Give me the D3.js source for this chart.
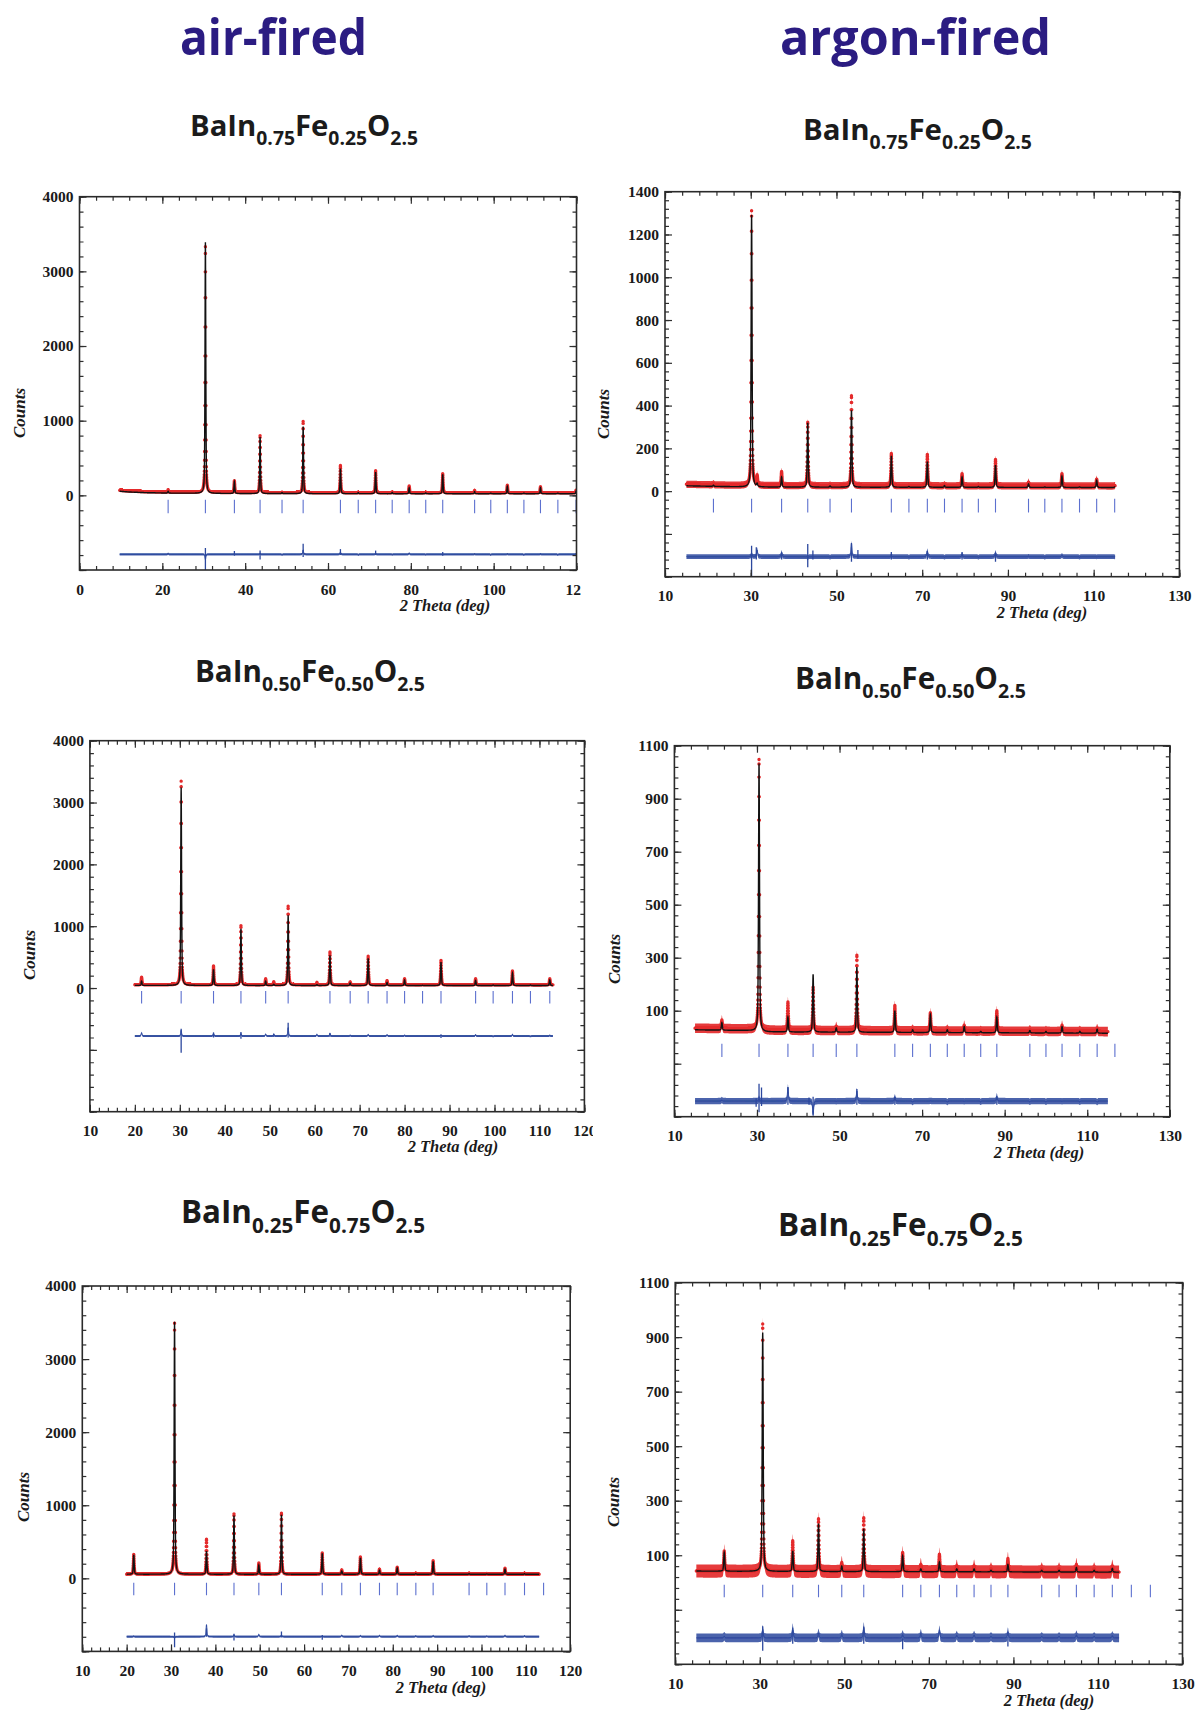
<!DOCTYPE html>
<html>
<head>
<meta charset="utf-8">
<script src="https://cdn.jsdelivr.net/npm/d3@7"></script>
<style>
  html, body { margin: 0; padding: 0; background: #ffffff; }
  svg { display: block; }
</style>
</head>
<body>
<svg id="fig" width="1195" height="1711"></svg>
<script>
// Rietveld fits of BaIn(1-x)Fe(x)O2.5 powder patterns: air-fired (left) vs argon-fired (right).

// ---- headings and compositions ----
const columnHeadings = ["air-fired", "argon-fired"];
const compositions = [["0.75", "0.25"], ["0.50", "0.50"], ["0.25", "0.75"]];

// ---- tick labels ----
const xTicksAirTop = [0, 20, 40, 60, 80, 100, 120];
const xTicksAir = [10, 20, 30, 40, 50, 60, 70, 80, 90, 100, 110, 120];
const xTicksArgon = [10, 30, 50, 70, 90, 110, 130];
const yTicksAir = [0, 1000, 2000, 3000, 4000];
const yTicksArgonTop = [0, 200, 400, 600, 800, 1000, 1200, 1400];
const yTicksArgon = [100, 300, 500, 700, 900, 1100];

// ---- BaIn0.75Fe0.25O2.5, air-fired ----
const air75Reflections = [21.4, 30.4, 37.4, 43.6, 48.9, 54.0, 63.0, 67.3, 71.5, 75.5, 79.6, 83.6, 87.7, 95.4, 99.3, 103.3, 107.3, 111.3, 115.5, 119.9];
// [2-theta, observed peak top, calculated peak top]
const air75Peaks = [[21.4, 75, 55], [30.4, 3330, 3390], [37.4, 195, 180], [43.6, 800, 780], [48.9, 40, 35], [54.0, 990, 920], [63.0, 400, 360], [67.3, 40, 35], [71.5, 330, 310], [75.5, 45, 38], [79.6, 125, 100], [83.6, 40, 32], [87.7, 290, 280], [95.4, 65, 50], [99.3, 35, 30], [103.3, 135, 120], [107.3, 35, 30], [111.3, 115, 100], [115.5, 35, 30], [119.9, 70, 55]];
const air75Background = [[9.7, 55], [12, 45], [16, 36], [22, 30], [30, 26], [60, 22], [120, 22]];
// [2-theta, lowest, highest] excursions of the difference curve
const air75Diff = [[30.4, -1000, -705], [37.4, -810, -745], [43.6, -860, -740], [54.0, -825, -650], [63.0, -800, -720], [71.5, -800, -740], [87.7, -810, -760]];

// ---- BaIn0.75Fe0.25O2.5, argon-fired ----
const arg75Reflections = [21.3, 30.2, 37.2, 43.3, 48.5, 53.5, 62.8, 66.9, 71.2, 75.2, 79.3, 83.1, 87.1, 94.8, 98.6, 102.6, 106.7, 110.7, 114.9];
const arg75Peaks = [[21.3, 35, 28], [30.2, 1311, 1291], [31.5, 70, 32], [37.2, 92, 66], [43.3, 322, 320], [48.5, 28, 24], [53.5, 446, 378], [62.8, 176, 165], [66.9, 26, 22], [71.2, 172, 138], [75.2, 30, 26], [79.3, 82, 66], [83.1, 26, 22], [87.1, 148, 122], [94.8, 42, 34], [98.6, 24, 20], [102.6, 82, 70], [106.7, 24, 20], [110.7, 56, 50], [114.9, 26, 20]];
const arg75Background = [[15, 25], [30, 19], [115, 17]];
const arg75Diff = [[30.2, -400, -255], [31.3, -320, -262], [37.2, -320, -285], [43.3, -356, -247], [44.5, -320, -278], [53.5, -330, -243], [55.0, -315, -275], [62.8, -320, -285], [71.2, -320, -280], [79.3, -320, -285], [87.1, -330, -288]];

// ---- BaIn0.50Fe0.50O2.5, air-fired ----
const air50Reflections = [21.5, 30.3, 37.5, 43.6, 49.1, 54.1, 63.4, 67.9, 71.9, 76.1, 80.0, 84.0, 88.1, 95.8, 99.7, 104.0, 108.0, 112.3];
const air50Peaks = [[21.5, 175, 110], [30.3, 3346, 3243], [37.5, 356, 300], [43.6, 1010, 960], [49.1, 150, 110], [50.9, 100, 60], [54.1, 1322, 1176], [60.5, 90, 55], [63.4, 583, 530], [67.9, 100, 80], [71.9, 513, 480], [76.1, 120, 90], [80.0, 150, 130], [84.0, 55, 45], [88.1, 448, 420], [95.8, 150, 120], [99.7, 55, 50], [104.0, 275, 240], [108.0, 55, 50], [112.3, 150, 130]];
const air50Background = [[20, 42], [113, 40]];
const air50Diff = [[30.3, -1047, -658], [37.5, -800, -720], [43.6, -820, -710], [50.9, -790, -740], [54.1, -800, -561], [63.4, -790, -730], [88.1, -810, -760]];

// ---- BaIn0.50Fe0.50O2.5, argon-fired ----
const arg50Reflections = [21.5, 30.5, 37.5, 43.6, 49.2, 54.2, 63.4, 67.7, 72.0, 76.1, 80.2, 84.2, 88.1, 96.1, 100.0, 103.9, 108.2, 112.4, 116.7];
const arg50Peaks = [[21.5, 65, 55], [30.5, 1048, 1033], [37.5, 133, 76], [43.6, 189, 237], [49.2, 40, 35], [54.2, 309, 265], [63.4, 120, 100], [67.7, 30, 28], [72.0, 92, 85], [76.1, 30, 28], [80.2, 45, 40], [84.2, 25, 22], [88.1, 100, 76], [96.1, 28, 25], [100.0, 25, 22], [103.9, 45, 40], [108.2, 25, 22], [112.4, 32, 30]];
const arg50Background = [[15, 28], [28, 25], [32, 20], [115, 15]];
const arg50Diff = [[29.8, -262, -230], [30.5, -283, -176], [31.1, -260, -190], [37.5, -255, -188], [42.6, -255, -228], [43.6, -289, -225], [54.2, -255, -195], [63.4, -255, -225], [88.1, -255, -230]];

// ---- BaIn0.25Fe0.75O2.5, air-fired ----
const air25Reflections = [21.6, 30.8, 38.0, 44.2, 49.8, 54.9, 64.1, 68.5, 72.7, 77.0, 81.0, 85.2, 89.1, 97.2, 101.2, 105.3, 109.7, 114.0];
const air25Peaks = [[21.6, 325, 320], [30.8, 3490, 3510], [38.0, 534, 371], [44.2, 882, 860], [49.8, 209, 180], [54.9, 891, 870], [64.1, 348, 340], [68.5, 116, 100], [72.7, 292, 280], [77.0, 125, 110], [81.0, 153, 140], [85.2, 70, 62], [89.1, 241, 230], [97.2, 70, 62], [101.2, 65, 60], [105.3, 139, 125], [109.7, 70, 62]];
const air25Background = [[20, 56], [113, 55]];
const air25Diff = [[30.8, -942, -740], [38.0, -800, -682], [44.2, -850, -760], [54.9, -810, -728], [64.1, -840, -780]];

// ---- BaIn0.25Fe0.75O2.5, argon-fired ----
const arg25Reflections = [21.6, 30.7, 37.8, 43.9, 49.4, 54.6, 63.8, 68.1, 72.5, 76.6, 80.7, 84.7, 88.7, 96.7, 100.8, 104.9, 109.1, 113.4, 117.9, 122.4];
const arg25Peaks = [[21.6, 116, 110], [30.7, 948, 917], [37.8, 153, 116], [43.9, 234, 216], [49.4, 73, 60], [54.6, 238, 197], [63.8, 110, 98], [68.1, 66, 50], [72.5, 104, 75], [76.6, 60, 50], [80.7, 60, 50], [84.7, 50, 45], [88.7, 88, 66], [96.7, 50, 45], [100.8, 50, 45], [104.9, 66, 55], [109.1, 50, 45], [113.4, 60, 52]];
const arg25Background = [[15, 42], [28, 41], [115, 38]];
const arg25Diff = [[30.7, -250, -160], [37.8, -225, -175], [54.6, -225, -165], [63.8, -245, -205], [88.7, -235, -200]];

// ---- per-panel levels (counts), order: air75, arg75, air50, arg50, air25, arg25 ----
const scanRanges = [[9.7, 120], [15, 115], [20, 113], [15, 115], [20, 113], [15, 115]];
const obsLift = [12, 7, 10, 6, 0, 0];
const obsScatter = [14, 17, 20, 18, 18, 24];
const diffZero = [-790, -306, -777, -241, -798, -203];
const diffScatter = [15, 11, 16, 12, 14, 16];
const braggSpan = [[-240, -60], [-100, -35], [-252, -49], [-75, -25], [-232, -60], [-54, -8]];

const STEP = 0.02;

// ---- layout of the six panels ----
const panels = [
  { row: 0, col: 0, refl: air75Reflections, peaks: air75Peaks, bg: air75Background, diff: air75Diff, fwhm: 0.22,
    frame: [79.5, 196.7, 576.5, 570], clipRight: 581,
    xDom: [0, 120], yDom: [-1000, 4000], xLabels: xTicksAirTop, xMinor: 4, yLabels: yTicksAir, yMajorExtra: [-1000], yMinor: 200,
    title: { x0: 190, x1: 418, base: 136 }, counts: [19, 413], theta: [445, 611] },
  { row: 0, col: 1, refl: arg75Reflections, peaks: arg75Peaks, bg: arg75Background, diff: arg75Diff, fwhm: 0.26,
    frame: [665, 191.7, 1179.4, 576.7], clipRight: null,
    xDom: [10, 130], yDom: [-400, 1400], xLabels: xTicksArgon, xMinor: 4, yLabels: yTicksArgonTop, yMajorExtra: [-200, -400], yMinor: 40,
    title: { x0: 803, x1: 1032, base: 140 }, counts: [603, 414], theta: [1042, 618] },
  { row: 1, col: 0, refl: air50Reflections, peaks: air50Peaks, bg: air50Background, diff: air50Diff, fwhm: 0.22,
    frame: [89.9, 740.7, 584.4, 1111.7], clipRight: 593,
    xDom: [10, 120], yDom: [-2000, 4000], xLabels: xTicksAir, xMinor: 2, yLabels: yTicksAir, yMajorExtra: [-1000, -2000], yMinor: 200,
    title: { x0: 195, x1: 425, base: 682 }, counts: [29.5, 955], theta: [453, 1152] },
  { row: 1, col: 1, refl: arg50Reflections, peaks: arg50Peaks, bg: arg50Background, diff: arg50Diff, fwhm: 0.28,
    frame: [674.4, 745.7, 1169.8, 1116.7], clipRight: null,
    xDom: [10, 130], yDom: [-300, 1100], xLabels: xTicksArgon, xMinor: 4, yLabels: yTicksArgon, yMajorExtra: [-100, -300], yMinor: 40,
    title: { x0: 795, x1: 1026, base: 689 }, counts: [614, 959], theta: [1039, 1158] },
  { row: 2, col: 0, refl: air25Reflections, peaks: air25Peaks, bg: air25Background, diff: air25Diff, fwhm: 0.22,
    frame: [82.3, 1286, 570.2, 1651.4], clipRight: null,
    xDom: [10, 120], yDom: [-1000, 4000], xLabels: xTicksAir, xMinor: 2, yLabels: yTicksAir, yMajorExtra: [-1000], yMinor: 200,
    title: { x0: 181, x1: 425, base: 1223 }, counts: [23, 1497], theta: [441, 1693] },
  { row: 2, col: 1, refl: arg25Reflections, peaks: arg25Peaks, bg: arg25Background, diff: arg25Diff, fwhm: 0.28,
    frame: [675.2, 1282.6, 1182.5, 1664.3], clipRight: null,
    xDom: [10, 130], yDom: [-300, 1100], xLabels: xTicksArgon, xMinor: 4, yLabels: yTicksArgon, yMajorExtra: [-100, -300], yMinor: 40,
    title: { x0: 778, x1: 1023, base: 1236 }, counts: [613, 1502], theta: [1049, 1706] }
];

const headingLayout = [{ x0: 180, x1: 367, base: 55 }, { x0: 780, x1: 1051, base: 55 }];

const SERIF = '"Liberation Serif", "Times New Roman", Times, serif';
const SANS = '"Open Sans", "Noto Sans", "DejaVu Sans", sans-serif';
const RED = "#e42a2b";
const DIFF_BLUE = "#2c489e";
const TICK_BLUE = "#5c70cf";

const svg = d3.select("#fig");
const defs = svg.append("defs");

// pseudo-Voigt line shape (half Gaussian, half Lorentzian), unit height
function pseudoVoigt(dx, fwhm) {
  const t = 2 * dx / fwhm, t2 = t * t;
  return 0.5 * Math.exp(-Math.LN2 * t2) + 0.5 / (1 + t2);
}

// observed and calculated profiles on the scan grid
function buildProfile(p, i) {
  const bg = d3.scaleLinear().domain(p.bg.map(d => d[0])).range(p.bg.map(d => d[1])).clamp(true);
  const lift = obsLift[i];
  const grid = d3.range(scanRanges[i][0], scanRanges[i][1] + 1e-6, STEP);
  return grid.map(x => {
    const b = bg(x);
    let obs = b + lift, calc = b;
    for (const [pos, o, c] of p.peaks) {
      const dx = x - pos;
      if (Math.abs(dx) > 8) continue;
      const s = pseudoVoigt(dx, p.fwhm);
      obs += (o - bg(pos) - lift) * s;
      calc += (c - bg(pos)) * s;
    }
    return { x, obs, calc, diff: diffZero[i] + (obs - lift - calc) };
  });
}

// ---- column headings ----
columnHeadings.forEach((h, c) => {
  const L = headingLayout[c];
  svg.append("text")
    .attr("x", L.x0).attr("y", L.base)
    .attr("font-family", SANS).attr("font-weight", 700).attr("font-size", 50)
    .attr("fill", "#2b1c82")
    .attr("textLength", L.x1 - L.x0).attr("lengthAdjust", "spacingAndGlyphs")
    .text(h);
});

panels.forEach((p, i) => {
  const [L, T, R, B] = p.frame;
  const x = d3.scaleLinear().domain(p.xDom).range([L, R]);
  const y = d3.scaleLinear().domain(p.yDom).range([B, T]);

  const g = svg.append("g");
  if (p.clipRight) {
    const cid = "panelclip" + i;
    defs.append("clipPath").attr("id", cid).append("rect")
      .attr("x", 0).attr("y", T - 120).attr("width", p.clipRight).attr("height", B - T + 200);
    g.attr("clip-path", `url(#${cid})`);
  }

  // formula title, sized so its width spans x0..x1
  const comp = compositions[p.row];
  const t = p.title;
  const title = g.append("text")
    .attr("x", t.x0).attr("y", t.base)
    .attr("font-family", SANS).attr("font-weight", 700).attr("font-size", 30)
    .attr("fill", "#1b1b1b");
  const parts = [["BaIn", 0], [comp[0], 1], ["Fe", 0], [comp[1], 1], ["O", 0], ["2.5", 1]];
  parts.forEach(([s, isSub]) => {
    title.append("tspan").attr("class", isSub ? "sub" : "main").text(s);
  });
  const setSize = fs => {
    title.attr("font-size", fs);
    title.selectAll("tspan").each(function (d, k) {
      const ts = d3.select(this);
      const isSub = parts[k][1];
      if (isSub) ts.attr("font-size", fs * 0.66).attr("dy", 0.31 * fs);
      else ts.attr("dy", k > 0 ? -0.31 * fs : null);
    });
  };
  setSize(30);
  const natural = title.node().getComputedTextLength();
  setSize(30 * (t.x1 - t.x0) / natural);

  // plotting area
  const cid2 = "plotclip" + i;
  defs.append("clipPath").attr("id", cid2).append("rect")
    .attr("x", L).attr("y", T).attr("width", R - L).attr("height", B - T);
  const plot = g.append("g").attr("clip-path", `url(#${cid2})`);

  const prof = buildProfile(p, i);

  // Bragg reflection markers
  const [bLo, bHi] = braggSpan[i];
  plot.append("g").selectAll("line").data(p.refl).join("line")
    .attr("x1", d => x(d)).attr("x2", d => x(d))
    .attr("y1", y(bLo)).attr("y2", y(bHi))
    .attr("stroke", TICK_BLUE).attr("stroke-width", 1.1);

  // observed: scatter band plus individual points
  const sc = obsScatter[i];
  plot.append("path")
    .attr("d", d3.area().x(d => x(d.x)).y0(d => y(d.obs - sc)).y1(d => y(d.obs + sc))(prof))
    .attr("fill", RED).attr("opacity", 0.92);
  plot.append("path")
    .attr("d", prof.map(d => `M${x(d.x).toFixed(2)},${y(d.obs).toFixed(2)}h0`).join(""))
    .attr("stroke", RED).attr("stroke-width", 3.4).attr("stroke-linecap", "round").attr("fill", "none");

  // calculated profile
  plot.append("path")
    .attr("d", d3.line().x(d => x(d.x)).y(d => y(d.calc))(prof))
    .attr("stroke", "#121212").attr("stroke-width", 1.4).attr("fill", "none");

  // difference curve
  const ds = diffScatter[i];
  plot.append("path")
    .attr("d", d3.area().x(d => x(d.x)).y0(d => y(d.diff - ds)).y1(d => y(d.diff + ds))(prof))
    .attr("fill", DIFF_BLUE).attr("opacity", 0.85);
  plot.append("path")
    .attr("d", d3.line().x(d => x(d.x)).y(d => y(d.diff))(prof))
    .attr("stroke", DIFF_BLUE).attr("stroke-width", 1).attr("fill", "none");
  plot.append("g").selectAll("line").data(p.diff).join("line")
    .attr("x1", d => x(d[0])).attr("x2", d => x(d[0]))
    .attr("y1", d => y(d[1])).attr("y2", d => y(d[2]))
    .attr("stroke", DIFF_BLUE).attr("stroke-width", 1.3);

  // axes: inward ticks on all four sides
  const xMajor = p.xLabels;
  const xMinor = d3.range(p.xDom[0], p.xDom[1] + 1e-6, p.xMinor);
  const yMajor = p.yMajorExtra.concat(p.yLabels);
  const yMinor = d3.range(p.yDom[0], p.yDom[1] + 1e-6, p.yMinor);
  const fmt = d3.format("d");

  function styleAxis(a) {
    a.select(".domain").remove();
    a.selectAll(".tick line").attr("stroke", "#2e2e2e").attr("stroke-width", 1.2);
    a.attr("font-family", SERIF).attr("font-weight", 700).attr("font-size", 15.5);
    a.selectAll(".tick text").attr("fill", "#1a1a1a");
  }

  const axes = g.append("g");
  axes.append("g").attr("transform", `translate(0,${B})`)
    .call(d3.axisBottom(x).tickValues(xMinor).tickSize(-4).tickFormat("")).call(styleAxis);
  axes.append("g").attr("transform", `translate(0,${B})`)
    .call(d3.axisBottom(x).tickValues(xMajor).tickSize(-7).tickPadding(13.8).tickFormat(fmt)).call(styleAxis);
  axes.append("g").attr("transform", `translate(0,${T})`)
    .call(d3.axisTop(x).tickValues(xMinor).tickSize(-4).tickFormat("")).call(styleAxis);
  axes.append("g").attr("transform", `translate(0,${T})`)
    .call(d3.axisTop(x).tickValues(xMajor).tickSize(-7).tickFormat("")).call(styleAxis);

  axes.append("g").attr("transform", `translate(${L},0)`)
    .call(d3.axisLeft(y).tickValues(yMinor).tickSize(-4).tickFormat("")).call(styleAxis);
  axes.append("g").attr("transform", `translate(${L},0)`)
    .call(d3.axisLeft(y).tickValues(yMajor).tickSize(-7).tickPadding(6)
      .tickFormat(d => p.yLabels.includes(d) ? fmt(d) : "")).call(styleAxis);
  axes.append("g").attr("transform", `translate(${R},0)`)
    .call(d3.axisRight(y).tickValues(yMinor).tickSize(-4).tickFormat("")).call(styleAxis);
  axes.append("g").attr("transform", `translate(${R},0)`)
    .call(d3.axisRight(y).tickValues(yMajor).tickSize(-7).tickFormat("")).call(styleAxis);

  // frame
  axes.append("rect")
    .attr("x", L).attr("y", T).attr("width", R - L).attr("height", B - T)
    .attr("fill", "none").attr("stroke", "#2a2a2a").attr("stroke-width", 1.6);

  // axis titles
  g.append("text")
    .attr("transform", `translate(${p.counts[0]},${p.counts[1]}) rotate(-90)`)
    .attr("text-anchor", "middle").attr("dy", "0.35em")
    .attr("font-family", SERIF).attr("font-style", "italic").attr("font-weight", 700).attr("font-size", 17)
    .attr("fill", "#1a1a1a")
    .text("Counts");
  g.append("text")
    .attr("x", p.theta[0]).attr("y", p.theta[1])
    .attr("text-anchor", "middle")
    .attr("font-family", SERIF).attr("font-style", "italic").attr("font-weight", 700).attr("font-size", 16.5)
    .attr("fill", "#1a1a1a")
    .text("2 Theta (deg)");
});
</script>
</body>
</html>
